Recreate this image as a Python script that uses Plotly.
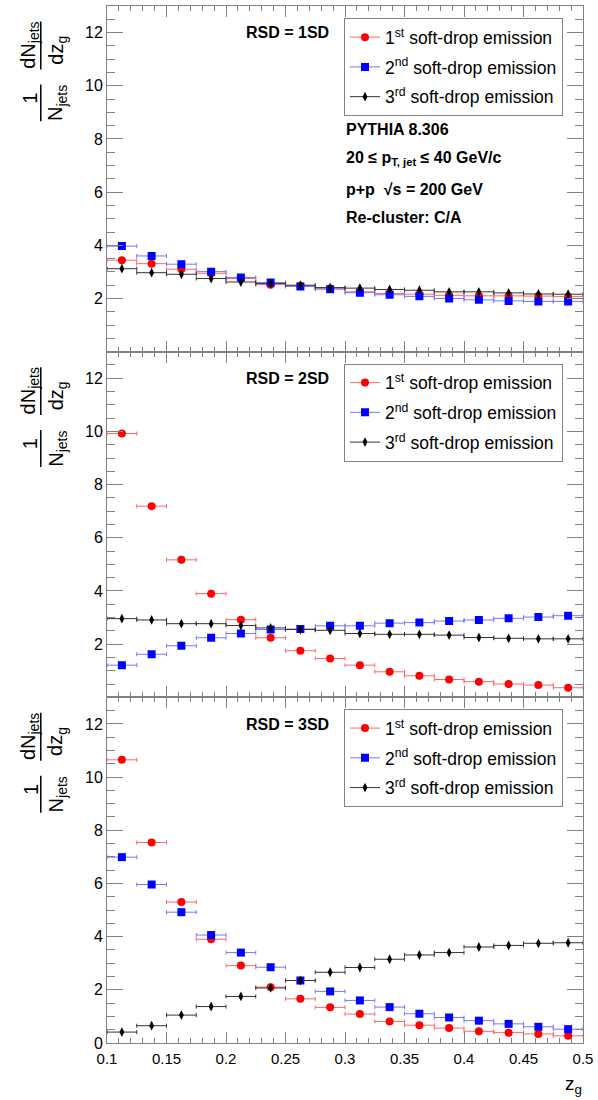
import plotly.graph_objects as go

# ---------------- data ----------------
zg_centers = [0.1125, 0.1375, 0.1625, 0.1875, 0.2125, 0.2375, 0.2625, 0.2875,
              0.3125, 0.3375, 0.3625, 0.3875, 0.4125, 0.4375, 0.4625, 0.4875]
zg_halfwidth = [0.0125] * 16

rsd1_first = [3.44, 3.31, 3.10, 2.95, 2.75, 2.52, 2.48, 2.38, 2.25, 2.19, 2.16, 2.12, 2.10, 2.10, 2.09, 2.07]
rsd1_second = [3.97, 3.60, 3.29, 3.01, 2.79, 2.60, 2.45, 2.35, 2.22, 2.14, 2.08, 2.00, 1.95, 1.91, 1.89, 1.89]
rsd1_third = [3.12, 2.97, 2.91, 2.75, 2.62, 2.56, 2.50, 2.41, 2.39, 2.34, 2.31, 2.25, 2.25, 2.21, 2.17, 2.16]

rsd2_first = [9.92, 7.19, 5.17, 3.90, 2.92, 2.24, 1.75, 1.46, 1.21, 0.96, 0.81, 0.67, 0.59, 0.50, 0.46, 0.36]
rsd2_second = [1.21, 1.62, 1.94, 2.24, 2.40, 2.55, 2.57, 2.69, 2.69, 2.79, 2.81, 2.87, 2.91, 2.97, 3.02, 3.07]
rsd2_third = [2.96, 2.91, 2.77, 2.77, 2.70, 2.61, 2.55, 2.52, 2.40, 2.37, 2.37, 2.34, 2.25, 2.22, 2.20, 2.20]

rsd3_first = [10.65, 7.54, 5.30, 3.90, 2.91, 2.10, 1.66, 1.34, 1.09, 0.81, 0.67, 0.56, 0.44, 0.39, 0.34, 0.27]
rsd3_second = [6.99, 5.96, 4.92, 4.06, 3.40, 2.85, 2.35, 1.94, 1.60, 1.35, 1.10, 0.96, 0.84, 0.72, 0.61, 0.52]
rsd3_third = [0.41, 0.65, 1.05, 1.37, 1.75, 2.07, 2.35, 2.66, 2.84, 3.15, 3.31, 3.40, 3.61, 3.67, 3.75, 3.77]

panel_labels = ["RSD = 1SD", "RSD = 2SD", "RSD = 3SD"]
series_names = ["1<sup>st</sup> soft-drop emission",
                "2<sup>nd</sup> soft-drop emission",
                "3<sup>rd</sup> soft-drop emission"]
info_lines = ["PYTHIA 8.306",
              "20 \u2264 p<sub>T, jet</sub> \u2264 40 GeV/c",
              "p+p  \u221As = 200 GeV",
              "Re-cluster: C/A"]
x_ticks = [0.1, 0.15, 0.2, 0.25, 0.3, 0.35, 0.4, 0.45, 0.5]
y_ticks_upper = [2, 4, 6, 8, 10, 12]
y_ticks_lower = [0, 2, 4, 6, 8, 10, 12]

panels = [
    [rsd1_first, rsd1_second, rsd1_third],
    [rsd2_first, rsd2_second, rsd2_third],
    [rsd3_first, rsd3_second, rsd3_third],
]

# ---------------- style ----------------
FONT = "Liberation Sans, Arial, Helvetica, sans-serif"
W, H = 598, 1100
L, R, T, B = 107, 13, 4.7, 56.7
PW = W - L - R
PH = H - T - B
AXC = "#808080"

marker_colors = ["#ff0000", "#0000ff", "#000000"]
bar_colors = ["#ff6666", "#7777ff", "#333333"]
symbols = ["circle", "square", "diamond-tall"]
msizes = [8, 8, 7]


def px(x):
    return (x - L) / PW


def py(y):
    return (H - B - y) / PH


fig = go.Figure()

suffix = ["", "2", "3"]
legend_names = ["legend", "legend2", "legend3"]
for p in range(3):
    for s in range(3):
        fig.add_trace(go.Scatter(
            x=zg_centers, y=panels[p][s], mode="markers",
            marker=dict(color=marker_colors[s], symbol=symbols[s], size=msizes[s],
                        line=dict(width=0)),
            error_x=dict(type="data", array=zg_halfwidth, color=bar_colors[s],
                         thickness=1, width=2),
            xaxis="x" + suffix[p], yaxis="y" + suffix[p],
            showlegend=False, hoverinfo="skip",
        ))
    for s in range(3):
        fig.add_trace(go.Scatter(
            x=[None], y=[None], mode="lines+markers", name=series_names[s],
            marker=dict(color=marker_colors[s], symbol=symbols[s], size=msizes[s],
                        line=dict(width=0)),
            line=dict(color=bar_colors[s], width=1),
            xaxis="x" + suffix[p], yaxis="y" + suffix[p],
            legend=legend_names[p], legendgroup=f"p{p}s{s}",
        ))

panel_top = [T, T + PH / 3, T + 2 * PH / 3]
domains = [[2 / 3, 1], [1 / 3, 2 / 3], [0, 1 / 3]]

layout = dict(
    width=W, height=H,
    margin=dict(l=L, r=R, t=T, b=B, pad=0),
    paper_bgcolor="white", plot_bgcolor="white",
    font=dict(family=FONT, size=16, color="black"),
    showlegend=True,
)

for p in range(3):
    xa = dict(
        range=[0.1, 0.5], domain=[0, 1], anchor="y" + suffix[p],
        tickmode="array", tickvals=x_ticks,
        ticktext=[f"{v:g}" for v in x_ticks],
        showticklabels=(p == 2),
        ticks="inside", ticklen=11, tickwidth=1, tickcolor=AXC,
        minor=dict(ticks="inside", tickmode="linear", tick0=0.1, dtick=0.01,
                   ticklen=5, tickcolor=AXC, tickwidth=1, showgrid=False),
        showline=True, linecolor=AXC, linewidth=1, mirror="ticks",
        showgrid=False, zeroline=False,
        tickfont=dict(size=15, family=FONT),
        ticklabelstandoff=2,
    )
    if p < 2:
        xa["matches"] = "x3"
    yt = y_ticks_upper if p < 2 else y_ticks_lower
    ya = dict(
        range=[0, 13], domain=domains[p], anchor="x" + suffix[p],
        tickmode="array", tickvals=yt, ticktext=[str(v) for v in yt],
        ticks="inside", ticklen=16, tickwidth=1, tickcolor=AXC,
        minor=dict(ticks="inside", tickmode="linear", tick0=0, dtick=0.5,
                   ticklen=8, tickcolor=AXC, tickwidth=1, showgrid=False),
        showline=True, linecolor=AXC, linewidth=1, mirror="ticks",
        showgrid=False, zeroline=False,
        tickfont=dict(size=16, family=FONT),
    )
    layout["xaxis" + suffix[p]] = xa
    layout["yaxis" + suffix[p]] = ya

legend_tops = [17, 363, 709]
for p in range(3):
    layout[legend_names[p]] = dict(
        x=px(345), y=py(legend_tops[p]), xanchor="left", yanchor="top",
        bgcolor="white", bordercolor=AXC, borderwidth=1,
        font=dict(size=17.5, family=FONT), tracegroupgap=4,
        itemwidth=30,
    )

fig.update_layout(**layout)

annotations = []
shapes = []
for p in range(3):
    top = panel_top[p]
    annotations.append(dict(
        x=px(288), y=py(top + 27), xref="paper", yref="paper",
        text="<b>" + panel_labels[p] + "</b>", showarrow=False,
        xanchor="center", yanchor="middle", font=dict(size=16, family=FONT)))
    annotations.append(dict(
        x=px(29), y=py(top + 39.5), xref="paper", yref="paper",
        text="dN<sub>jets</sub>", textangle=-90, showarrow=False,
        xanchor="center", yanchor="middle", font=dict(size=20, family=FONT)))
    annotations.append(dict(
        x=px(57), y=py(top + 44.5), xref="paper", yref="paper",
        text="dz<sub>g</sub>", textangle=-90, showarrow=False,
        xanchor="center", yanchor="middle", font=dict(size=20, family=FONT)))
    shapes.append(dict(type="line", xref="paper", yref="paper",
                       x0=px(40.5), x1=px(40.5), y0=py(top + 15.5), y1=py(top + 63.5),
                       line=dict(color="black", width=1.5)))
    annotations.append(dict(
        x=px(30), y=py(top + 92.5), xref="paper", yref="paper",
        text="1", textangle=-90, showarrow=False,
        xanchor="center", yanchor="middle", font=dict(size=20, family=FONT)))
    annotations.append(dict(
        x=px(57), y=py(top + 97), xref="paper", yref="paper",
        text="N<sub>jets</sub>", textangle=-90, showarrow=False,
        xanchor="center", yanchor="middle", font=dict(size=20, family=FONT)))
    shapes.append(dict(type="line", xref="paper", yref="paper",
                       x0=px(40.5), x1=px(40.5), y0=py(top + 78.5), y1=py(top + 115.5),
                       line=dict(color="black", width=1.5)))

info_y = [128, 157, 188, 217]
for txt, yy in zip(info_lines, info_y):
    annotations.append(dict(
        x=px(345), y=py(yy), xref="paper", yref="paper",
        text="<b>" + txt + "</b>", showarrow=False,
        xanchor="left", yanchor="middle", font=dict(size=16, family=FONT)))

annotations.append(dict(
    x=px(586), y=py(1085), xref="paper", yref="paper",
    text="z<sub>g</sub>", showarrow=False,
    xanchor="right", yanchor="middle", font=dict(size=19, family=FONT)))

fig.update_layout(annotations=annotations, shapes=shapes)

fig.write_html("out.html",
               config={"displayModeBar": False, "staticPlot": True},
               post_script="document.body.style.margin='0';document.body.style.overflow='hidden';")
